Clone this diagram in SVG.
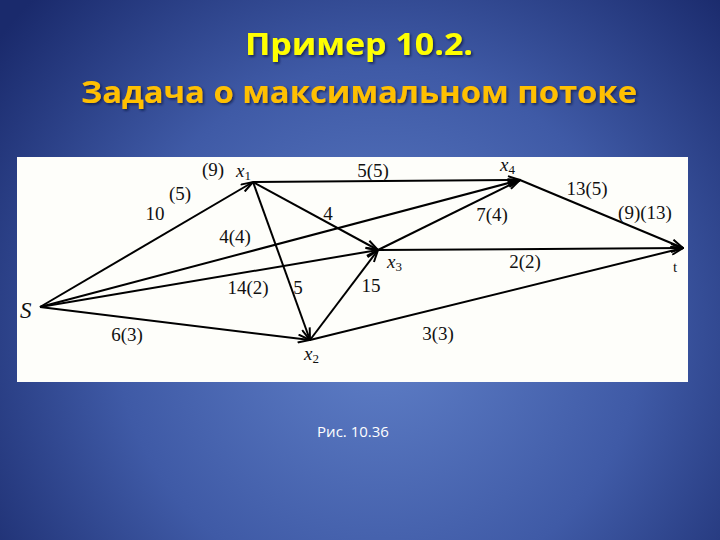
<svg xmlns="http://www.w3.org/2000/svg" width="720" height="540" viewBox="0 0 720 540">
<defs>
<radialGradient id="bg" cx="380" cy="330" r="480" gradientUnits="userSpaceOnUse">
<stop offset="0" stop-color="#6080c8"/>
<stop offset="0.55" stop-color="#3f5aa6"/>
<stop offset="1" stop-color="#1a2a6c"/>
</radialGradient>
<filter id="sh" x="-5%" y="-20%" width="110%" height="150%">
<feDropShadow dx="1.5" dy="1.5" stdDeviation="0.8" flood-color="#101a40" flood-opacity="0.8"/>
</filter>
<marker id="ah" viewBox="0 0 14 10" refX="13" refY="5" markerWidth="14" markerHeight="10" markerUnits="userSpaceOnUse" orient="auto">
<path d="M1,1 L13,5 L1,9" fill="none" stroke="#000" stroke-width="2"/>
</marker>
</defs>
<style>
.t1{font-family:"Open Sans","Noto Sans",sans-serif;font-size:30px;font-weight:bold;text-anchor:middle;filter:url(#sh)}
.cap{font-family:"Open Sans","Noto Sans",sans-serif;font-size:15px;fill:#ffffff;text-anchor:middle}
.e{stroke:#000;stroke-width:2;fill:none;marker-end:url(#ah)}
.lbl{font-family:"Liberation Serif","Times New Roman",serif;font-size:19px;fill:#111;text-anchor:middle}
.nd{font-family:"Liberation Serif","Times New Roman",serif;font-size:19px;font-style:italic;fill:#111}
.sub{font-size:13px;font-style:normal}
</style>
<rect x="0" y="0" width="720" height="540" fill="url(#bg)"/>
<text class="t1" x="359" y="55" fill="#ffff00" textLength="228" lengthAdjust="spacingAndGlyphs">Пример 10.2.</text>
<text class="t1" x="359" y="103" fill="#ffc000" textLength="556" lengthAdjust="spacingAndGlyphs">Задача о максимальном потоке</text>
<rect x="17" y="157" width="671" height="225" fill="#fefefa"/>
<g id="connectors">
<line class="e" x1="40" y1="307" x2="253" y2="182"/>
<line class="e" x1="253" y1="182" x2="520" y2="180"/>
<line class="e" x1="253" y1="182" x2="378" y2="250"/>
<line class="e" x1="253" y1="182" x2="310" y2="340"/>
<line class="e" x1="40" y1="307" x2="520" y2="180"/>
<line class="e" x1="40" y1="307" x2="378" y2="250"/>
<line class="e" x1="40" y1="307" x2="310" y2="340"/>
<line class="e" x1="310" y1="340" x2="378" y2="250"/>
<line class="e" x1="378" y1="250" x2="520" y2="180"/>
<line class="e" x1="378" y1="250" x2="683" y2="248"/>
<line class="e" x1="520" y1="180" x2="683" y2="248"/>
<line class="e" x1="310" y1="340" x2="683" y2="248"/>
</g>
<g id="edge-labels">
<text class="lbl" x="213" y="176">(9)</text>
<text class="lbl" x="180" y="200">(5)</text>
<text class="lbl" x="155" y="220">10</text>
<text class="lbl" x="235" y="243">4(4)</text>
<text class="lbl" x="248" y="294">14(2)</text>
<text class="lbl" x="298" y="294">5</text>
<text class="lbl" x="127" y="341">6(3)</text>
<text class="lbl" x="328" y="220">4</text>
<text class="lbl" x="373" y="177">5(5)</text>
<text class="lbl" x="587" y="195">13(5)</text>
<text class="lbl" x="492" y="221">7(4)</text>
<text class="lbl" x="645" y="219">(9)(13)</text>
<text class="lbl" x="525" y="268">2(2)</text>
<text class="lbl" x="371" y="292">15</text>
<text class="lbl" x="438" y="340">3(3)</text>
</g>
<g id="node-S"><text class="nd" x="20" y="318" style="font-size:23px">S</text></g>
<g id="node-x1"><text class="nd" x="236" y="177">x<tspan class="sub" dy="3">1</tspan></text></g>
<g id="node-x2"><text class="nd" x="304" y="360">x<tspan class="sub" dy="3">2</tspan></text></g>
<g id="node-x3"><text class="nd" x="387" y="268">x<tspan class="sub" dy="3">3</tspan></text></g>
<g id="node-x4"><text class="nd" x="500" y="171">x<tspan class="sub" dy="3">4</tspan></text></g>
<g id="node-t"><text class="lbl" x="675" y="272" style="font-size:15px">t</text></g>
<text class="cap" x="353" y="437">Рис. 10.36</text>
</svg>
